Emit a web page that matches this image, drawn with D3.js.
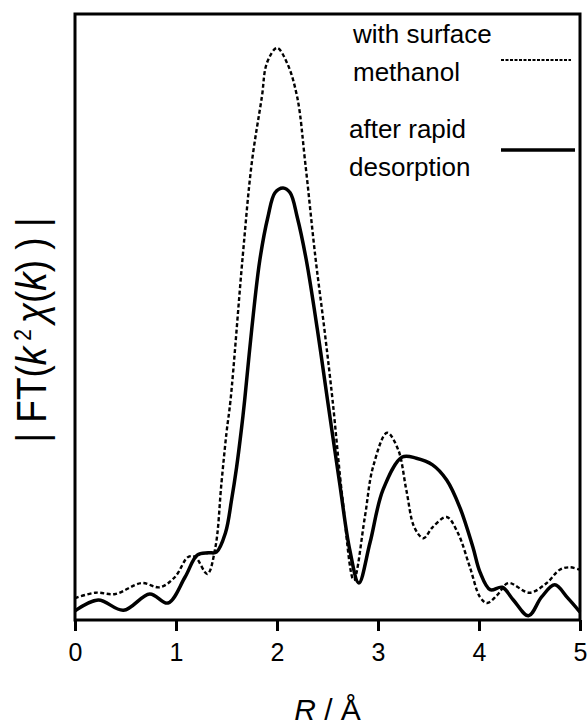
<!DOCTYPE html>
<html>
<head>
<meta charset="utf-8">
<script src="https://cdn.jsdelivr.net/npm/d3@7"></script>
<style>
  body { margin: 0; background: #fff; }
  text { font-family: "Liberation Sans", Arial, Helvetica, sans-serif; fill: #000; }
</style>
</head>
<body>
<div id="chart"></div>
<script>
// R values (Å) and |FT| magnitudes (arbitrary units, 0-100 full scale)
const rSolid = [0, 0.23, 0.48, 0.74, 0.92, 1.09, 1.21, 1.32, 1.40, 1.49, 1.55, 1.60, 1.65, 1.68,
  1.75, 1.83, 1.91, 1.98, 2.06, 2.13, 2.20, 2.29, 2.40, 2.50, 2.62, 2.72, 2.81, 2.92, 3.05, 3.24, 3.38,
  3.54, 3.68, 3.81, 3.94, 4.01, 4.11, 4.23, 4.34, 4.49, 4.62, 4.75, 4.88, 5.0];
const ftSolid = [1.5, 3.3, 1.6, 4.3, 2.8, 7.1, 10.7, 11.1, 11.2, 14.4, 19.8, 25.2, 31.8, 36.3,
  48.0, 59.4, 66.5, 70.5, 71.3, 70.5, 66.5, 59.4, 47.9, 36.3, 22.6, 11.6, 6.1, 12.7, 21.5, 26.9, 26.7,
  25.6, 23.1, 18.6, 12.0, 7.9, 5.0, 5.4, 3.3, 0.7, 3.8, 5.8, 3.6, 1.3];

const rDash = [0, 0.2, 0.4, 0.66, 0.84, 0.99, 1.12, 1.19, 1.31, 1.39, 1.45, 1.50, 1.54, 1.66,
  1.75, 1.85, 1.90, 2.0, 2.10, 2.20, 2.28, 2.38, 2.47, 2.55, 2.65, 2.76, 2.87, 2.95, 3.09, 3.20, 3.28,
  3.36, 3.45, 3.54, 3.68, 3.79, 3.91, 4.01, 4.08, 4.18, 4.29, 4.50, 4.67, 4.80, 4.90, 5.0];
const ftDash = [3.6, 4.5, 4.3, 6.1, 5.4, 7.1, 10.4, 10.4, 7.6, 12.0, 22.6, 30.9, 36.3, 59.9,
  75.4, 86.3, 91.9, 94.4, 91.9, 86.3, 75.4, 59.9, 47.9, 36.3, 19.8, 6.6, 17.0, 25.2, 30.9, 28.1, 21.5,
  15.3, 13.5, 15.3, 17.0, 14.4, 8.7, 3.8, 2.8, 4.1, 6.1, 4.5, 6.1, 8.3, 8.7, 8.3];

const xTicks = [0, 1, 2, 3, 4, 5];
const legendLines = [["with surface", "methanol"], ["after rapid", "desorption"]];

const margin = { top: 14, right: 8, bottom: 106, left: 75 },
  width = 588 - margin.left - margin.right,
  height = 726 - margin.top - margin.bottom;

const svg = d3.select("#chart")
  .append("svg")
  .attr("width", 588)
  .attr("height", 726)
  .append("g")
  .attr("transform", `translate(${margin.left},${margin.top})`);

const x = d3.scaleLinear().domain([0, 5]).range([0, width]);
const y = d3.scaleLinear().domain([0, 100]).range([height, 0]);

const line = d3.line()
  .x((d) => x(d[0]))
  .y((d) => y(d[1]))
  .curve(d3.curveCatmullRom.alpha(0.5));

// frame
svg.append("rect")
  .attr("width", width)
  .attr("height", height)
  .attr("fill", "none")
  .attr("stroke", "#000")
  .attr("stroke-width", 3);

// bottom axis: ticks point down
const xAxis = svg.append("g")
  .attr("transform", `translate(0,${height})`)
  .call(d3.axisBottom(x).tickValues(xTicks).tickFormat(d3.format("d")).tickSize(11).tickPadding(12));
xAxis.select(".domain").remove();
xAxis.selectAll(".tick line").attr("stroke-width", 3);
xAxis.selectAll(".tick text")
  .style("font-size", "25px")
  .style("font-family", "'Liberation Sans', Arial, sans-serif");

// curves
svg.append("path")
  .datum(rDash.map((r, i) => [r, ftDash[i]]))
  .attr("fill", "none")
  .attr("stroke", "#000")
  .attr("stroke-width", 2.4)
  .attr("stroke-dasharray", "4,2.5")
  .attr("d", line);

svg.append("path")
  .datum(rSolid.map((r, i) => [r, ftSolid[i]]))
  .attr("fill", "none")
  .attr("stroke", "#000")
  .attr("stroke-width", 3.5)
  .attr("d", line);

// axis titles
const xt = svg.append("text")
  .attr("x", width / 2)
  .attr("y", height + 100)
  .attr("text-anchor", "middle")
  .style("font-size", "30px");
xt.append("tspan").style("font-style", "italic").text("R");
xt.append("tspan").text(" / Å");

// y title: letters are taller than wide in the original, so stretch across the baseline
const yt = svg.append("text")
  .attr("transform", `translate(${-29},${height / 2 + 13}) rotate(-90) scale(1,1.17)`)
  .attr("text-anchor", "middle")
  .style("font-size", "37px");
yt.append("tspan").text("| FT(");
yt.append("tspan").style("font-style", "italic").text("k");
yt.append("tspan").attr("dy", -13).style("font-size", "21px").text(" 2 ");
yt.append("tspan").attr("dy", 13).style("font-style", "italic").text("χ");
yt.append("tspan").text("(");
yt.append("tspan").style("font-style", "italic").text("k");
yt.append("tspan").text(") ) |");

// legend
const legend = svg.selectAll(".legend")
  .data(legendLines)
  .join("g")
  .attr("class", "legend")
  .attr("transform", (d, i) => `translate(0,${i * 95})`);

legend.each(function (d, i) {
  const g = d3.select(this);
  g.selectAll("text")
    .data(d)
    .join("text")
    .attr("x", i === 0 ? 278 : 274)
    .attr("y", (t, j) => 29 + j * 38)
    .style("font-size", "26px")
    .text((t) => t);
  g.append("line")
    .attr("x1", 426)
    .attr("x2", i === 0 ? 496 : 500)
    .attr("y1", i === 0 ? 46 : 41)
    .attr("y2", i === 0 ? 46 : 41)
    .attr("stroke", "#000")
    .attr("stroke-width", i === 0 ? 2.2 : 3.5)
    .attr("stroke-dasharray", i === 0 ? "3,1.5" : null);
});
</script>
</body>
</html>
